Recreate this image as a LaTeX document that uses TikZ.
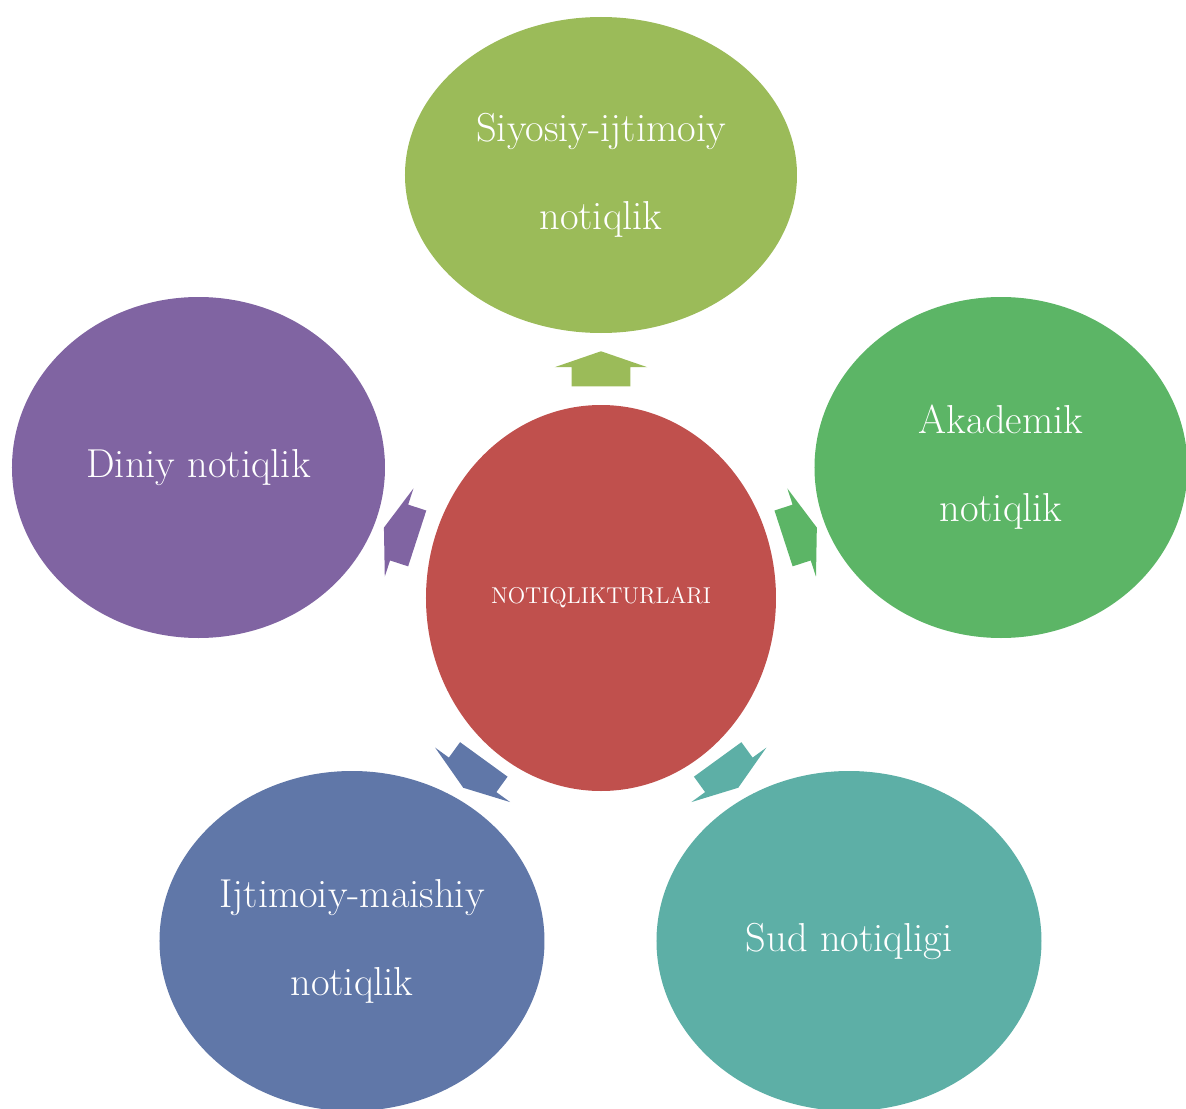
\documentclass[tikz,border=0pt]{standalone}
\usepackage{xcolor}
\usepackage{tikz}
\usetikzlibrary{shapes.geometric, shapes.arrows, calc}

\definecolor{turred}{HTML}{C0504D}
\definecolor{siyogreen}{HTML}{9BBB59}
\definecolor{akagreen}{RGB}{92,181,102}
\definecolor{dinpurple}{HTML}{8064A2}
\definecolor{ijtblue}{RGB}{96,119,168}
\definecolor{sudteal}{RGB}{93,175,166}

\begin{document}
\begin{tikzpicture}
\tikzstyle{kind} = [ellipse, text=white, inner sep=0pt, align=center, font=\fontsize{23}{50}\selectfont, minimum width=7.7cm, minimum height=6.8cm]
\tikzstyle{pointer} = [single arrow, inner xsep=0pt, inner ysep=0.58cm, outer sep=0pt, single arrow head extend=0.34cm, single arrow tip angle=142, minimum height=0.7cm]

\useasboundingbox (-12.02,-10.2) rectangle (11.7,11.96);

% centre and the five kinds
\node (turlar) [ellipse, fill=turred, text=white, inner sep=0pt, minimum width=7cm, minimum height=7.72cm, font=\fontsize{13}{15}\selectfont] {NOTIQLIKTURLARI};
\node (siyosiy) [kind, fill=siyogreen, minimum width=7.84cm, minimum height=6.32cm] at (0,8.46) {Siyosiy-ijtimoiy\\notiqlik};
\node (akademik) [kind, fill=akagreen, minimum width=7.46cm, minimum height=6.82cm] at (8.0,2.61) {Akademik\\notiqlik};
\node (diniy) [kind, fill=dinpurple, minimum width=7.46cm, minimum height=6.82cm] at (-8.05,2.61) {Diniy notiqlik};
\node (maishiy) [kind, fill=ijtblue] at (-4.98,-6.86) {Ijtimoiy-maishiy\\notiqlik};
\node (sud) [kind, fill=sudteal] at (4.96,-6.86) {Sud notiqligi};

% block arrows
\node (to-siyosiy) [pointer, fill=siyogreen, rotate=90] at ($(turlar)!0.53!(siyosiy)$) {};
\node (to-akademik) [pointer, fill=akagreen, rotate=18] at ($(turlar)!0.486!(akademik)$) {};
\node (to-diniy) [pointer, fill=dinpurple, rotate=162] at ($(turlar)!0.486!(diniy)$) {};
\node (to-maishiy) [pointer, fill=ijtblue, rotate=234] at ($(turlar)!0.5!(maishiy)$) {};
\node (to-sud) [pointer, fill=sudteal, rotate=306] at ($(turlar)!0.5!(sud)$) {};

\end{tikzpicture}
\end{document}
